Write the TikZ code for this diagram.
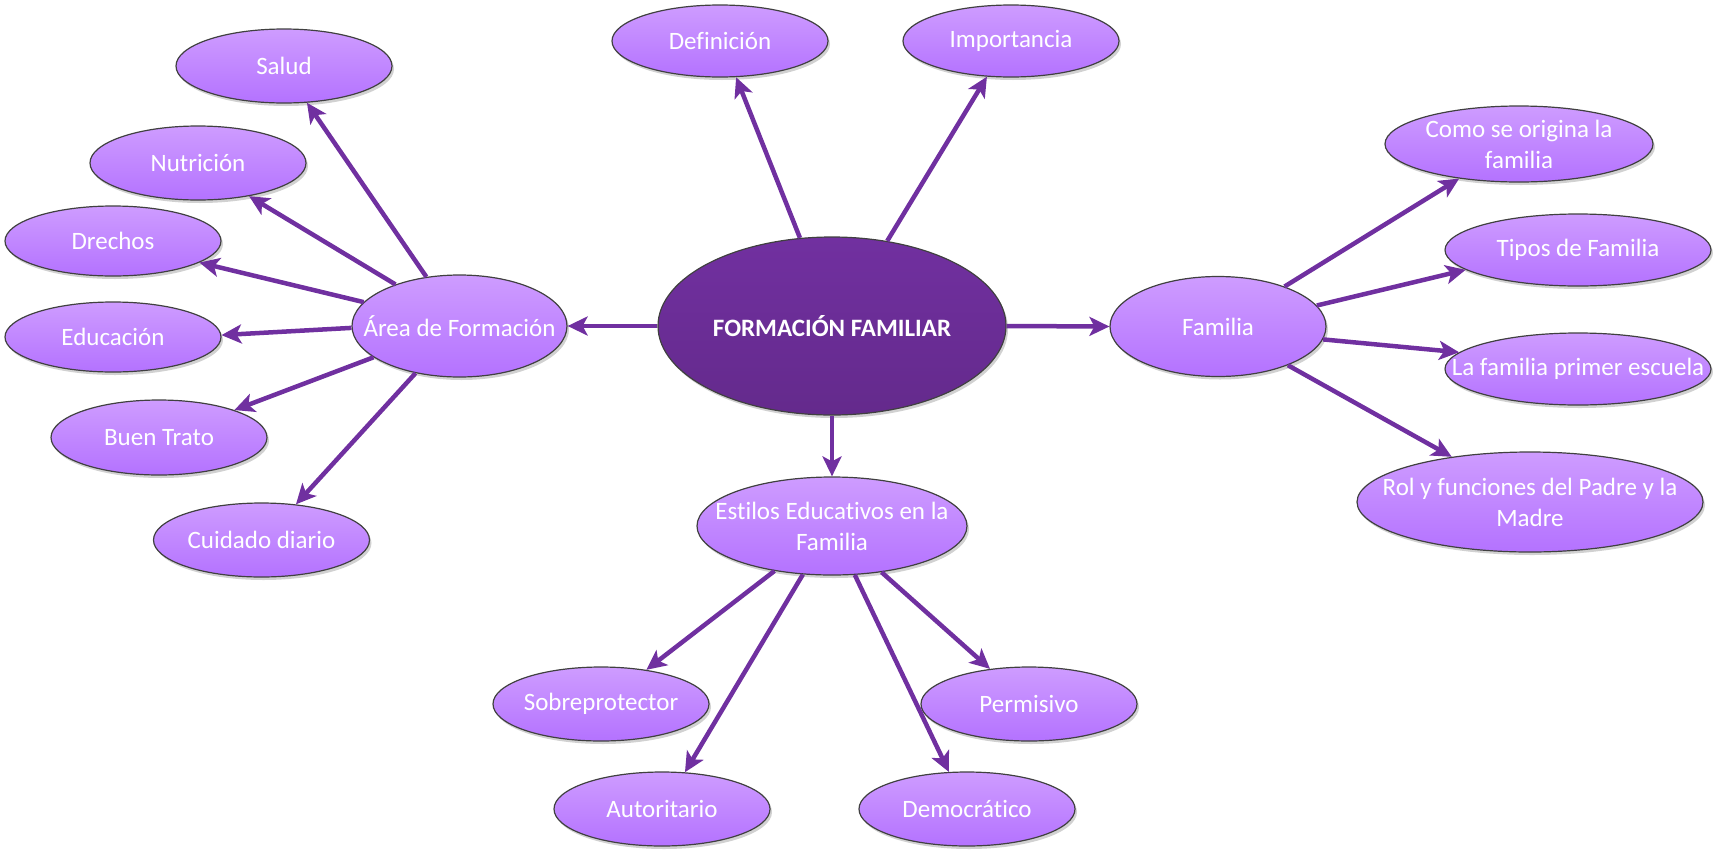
\documentclass[tikz,border=0pt]{standalone}
\usepackage{fontspec}
\setmainfont[Ligatures={NoCommon}]{Carlito}
\usetikzlibrary{shapes.geometric,arrows.meta,shadows}
\definecolor{lavTop}{RGB}{206,156,255}
\definecolor{lavBot}{RGB}{180,114,255}
\definecolor{centTop}{RGB}{113,48,160}
\definecolor{centBot}{RGB}{100,42,140}
\definecolor{arrowC}{RGB}{112,48,160}
\definecolor{edgeC}{RGB}{64,64,64}
\tikzset{
  bub/.style={ellipse, draw=edgeC, line width=1.2pt, top color=lavTop, bottom color=lavBot,
    inner sep=0pt, minimum width=216pt, minimum height=74pt,
    drop shadow={shadow xshift=2pt, shadow yshift=-3pt, opacity=0.18, fill=black}},
  txt/.style={text=white, font=\fontsize{25}{31}\selectfont, align=center, inner sep=0pt},
  btxt/.style={text=white, font=\fontsize{25}{31}\selectfont\bfseries, align=center, inner sep=0pt},
  arr/.style={draw=arrowC, line width=4.5pt, -{Stealth[length=20pt,width=19pt,inset=5pt]}}
}
\begin{document}
\begin{tikzpicture}[x=1pt,y=-1pt]
\useasboundingbox (0,0) rectangle (1713,849);
% central
\node[ellipse, draw=edgeC, line width=1.2pt, top color=centTop, bottom color=centBot, inner sep=0pt,
  minimum width=348pt, minimum height=178pt,
  drop shadow={shadow xshift=2pt, shadow yshift=-3pt, opacity=0.18, fill=black},
  label={[btxt]center:FORMACIÓN FAMILIAR}] (c) at (832,326) {};
% Area
\node[bub, minimum width=215pt, minimum height=102pt, label={[txt]center:Área de Formación}] (area) at (459.5,326) {};
\node[bub, label={[txt]center:Salud}] (salud) at (284,66) {};
\node[bub, label={[txt]center:Nutrición}] (nutri) at (198,163) {};
\node[bub, minimum height=70pt, label={[txt]center:Drechos}] (drech) at (113,241) {};
\node[bub, minimum height=70pt, label={[txt]center:Educación}] (educ) at (113,337) {};
\node[bub, minimum height=75pt, label={[txt]center:Buen Trato}] (buen) at (159,437.5) {};
\node[bub, label={[txt]center:Cuidado diario}] (cuid) at (261.5,540) {};
% top
\node[bub, minimum height=72pt, label={[txt]center:Definición}] (defi) at (720,41) {};
\node[bub, minimum height=72pt, label={[txt]center:Importancia}] (impo) at (1011,41) {};
% Familia
\node[bub, minimum height=100pt, label={[txt]center:Familia}] (fam) at (1218,326.5) {};
\node[bub, minimum width=268pt, minimum height=76pt, label={[txt]center:Como se origina la\\familia}] (como) at (1519,144) {};
\node[bub, minimum width=266pt, minimum height=72pt, label={[txt]center:Tipos de Familia}] (tipos) at (1578,250) {};
\node[bub, minimum width=266pt, minimum height=72pt, label={[txt]center:La familia primer escuela}] (prim) at (1578,369) {};
\node[bub, minimum width=346pt, minimum height=100pt, label={[txt]center:Rol y funciones del Padre y la\\Madre}] (rol) at (1530,502) {};
% Estilos
\node[bub, minimum width=270pt, minimum height=98pt, label={[txt]center:Estilos Educativos en la\\Familia}] (esti) at (832,526) {};
\node[bub, label={[txt]center:Sobreprotector}] (sobre) at (601,704) {};
\node[bub, label={[txt]center:Autoritario}] (auto) at (662,809) {};
\node[bub, label={[txt]center:Permisivo}] (perm) at (1029,704) {};
\node[bub, label={[txt]center:Democrático}] (demo) at (967,809) {};
% arrows from center
\draw[arr] (c.180) -- (area.0);
\draw[arr] (c.0) -- (fam.180);
\draw[arr] (c.270) -- (esti.90);
\draw[arr] (c.110.8) -- (defi.294.7);
\draw[arr] (c.57.8) -- (impo.236.3);
% from Area
\draw[arr] (area.124.1) -- (salud.302.7);
\draw[arr] (area.147) -- (nutri.327.5);
\draw[arr] (area.166) -- (drech.346.9);
\draw[arr] (area.181.6) -- (educ.1.6);
\draw[arr] (area.200.1) -- (buen.20.4);
\draw[arr] (area.227.3) -- (cuid.46.2);
% from Familia
\draw[arr] (fam.31.9) -- (como.210.8);
\draw[arr] (fam.12.3) -- (tipos.190.5);
\draw[arr] (fam.353.1) -- (prim.172.6);
\draw[arr] (fam.331.8) -- (rol.150.9);
% from Estilos
\draw[arr] (esti.218.5) -- (sobre.37.5);
\draw[arr] (esti.239.5) -- (auto.58.8);
\draw[arr] (esti.295.2) -- (demo.116.6);
\draw[arr] (esti.317.3) -- (perm.138.7);
\end{tikzpicture}
\end{document}
